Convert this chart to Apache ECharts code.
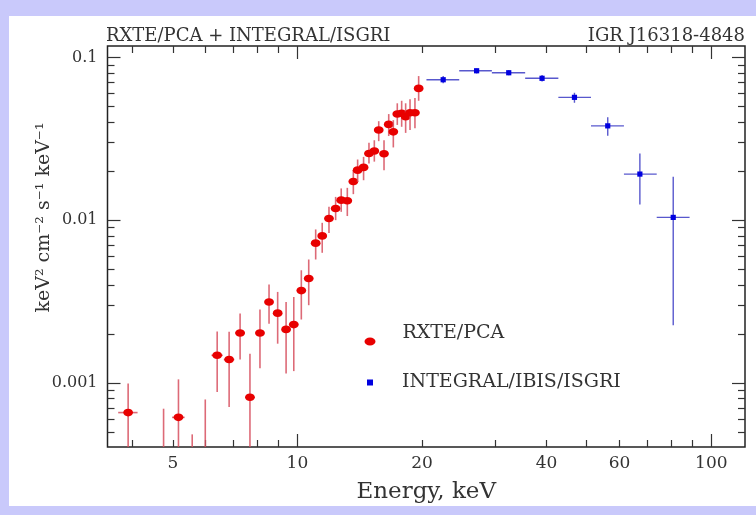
<!DOCTYPE html>
<html><head><meta charset="utf-8">
<script src="https://cdn.jsdelivr.net/npm/echarts@6/dist/echarts.min.js"></script>
<style>html,body{margin:0;padding:0;background:#c9c9fb}#c{width:756px;height:515px}</style>
</head><body><div id="c"></div>
<script>
// RXTE/PCA spectrum (keV, keV^2 cm^-2 s^-1 keV^-1)
const redEnergy    = [3.90, 4.75, 5.16, 5.57, 5.99, 6.40, 6.84, 7.27, 7.68, 8.12, 8.54, 8.96, 9.39, 9.80, 10.22, 10.65, 11.07, 11.48, 11.92, 12.37, 12.76, 13.20, 13.65, 13.98, 14.45, 14.89, 15.34, 15.72, 16.19, 16.62, 17.05, 17.43, 17.86, 18.26, 18.71, 19.23, 19.63];
const redEnergyErr = [0.21, 0.19, 0.18, 0.19, 0.2, 0.2, 0.2, 0.2, 0.2, 0.2, 0.2, 0.2, 0.2, 0.2, 0.2, 0.2, 0.2, 0.2, 0.2, 0.2, 0.2, 0.2, 0.2, 0.2, 0.2, 0.2, 0.2, 0.2, 0.2, 0.2, 0.2, 0.2, 0.2, 0.2, 0.2, 0.2, 0.2];
const redFlux      = [6.56e-4, 3.2e-4, 6.13e-4, 3.0e-4, 3.5e-4, 1.476e-3, 1.39e-3, 2.025e-3, 8.15e-4, 2.025e-3, 3.14e-3, 2.68e-3, 2.13e-3, 2.28e-3, 3.69e-3, 4.38e-3, 7.22e-3, 8.0e-3, 1.024e-2, 1.18e-2, 1.327e-2, 1.315e-2, 1.73e-2, 2.03e-2, 2.11e-2, 2.57e-2, 2.66e-2, 3.58e-2, 2.56e-2, 3.88e-2, 3.49e-2, 4.49e-2, 4.54e-2, 4.33e-2, 4.57e-2, 4.57e-2, 6.46e-2];
const redFluxLow   = [2.5e-4, 1.0e-4, 2.5e-4, 1.0e-4, 1.0e-4, 8.78e-4, 7.1e-4, 1.39e-3, 2.0e-4, 1.23e-3, 2.31e-3, 1.74e-3, 1.14e-3, 1.18e-3, 2.45e-3, 3.0e-3, 5.73e-3, 6.3e-3, 8.35e-3, 1.0e-2, 1.125e-2, 1.06e-2, 1.445e-2, 1.72e-2, 1.76e-2, 2.23e-2, 2.29e-2, 3.06e-2, 2.03e-2, 3.29e-2, 2.8e-2, 3.85e-2, 3.75e-2, 3.44e-2, 3.58e-2, 3.67e-2, 5.42e-2];
const redFluxHigh  = [9.9e-4, 6.93e-4, 1.05e-3, 4.82e-4, 7.9e-4, 2.07e-3, 2.06e-3, 2.67e-3, 1.51e-3, 2.82e-3, 4.02e-3, 3.62e-3, 3.14e-3, 3.37e-3, 4.92e-3, 5.73e-3, 8.77e-3, 9.63e-3, 1.207e-2, 1.39e-2, 1.567e-2, 1.58e-2, 2.03e-2, 2.36e-2, 2.45e-2, 2.99e-2, 3.1e-2, 4.06e-2, 3.1e-2, 4.49e-2, 4.12e-2, 5.23e-2, 5.42e-2, 5.23e-2, 5.53e-2, 5.63e-2, 7.69e-2];

// INTEGRAL/IBIS/ISGRI spectrum
const blueEnergy     = [22.5, 27.1, 32.4, 39.0, 46.7, 56.2, 67.2, 80.9];
const blueEnergyLow  = [20.5, 24.6, 29.5, 35.5, 42.7, 51.2, 61.5, 73.8];
const blueEnergyHigh = [24.6, 29.5, 35.5, 42.7, 51.2, 61.5, 73.8, 88.6];
const blueFlux       = [0.0730, 0.0829, 0.0806, 0.0745, 0.0569, 0.0380, 0.0192, 0.0104];
const blueFluxLow    = [0.0694, 0.0798, 0.0778, 0.0711, 0.0527, 0.0330, 0.0125, 0.00226];
const blueFluxHigh   = [0.0769, 0.0855, 0.0836, 0.0780, 0.0607, 0.0429, 0.0257, 0.0185];

// axes
const xRange = [3.477, 120.6];
const yRange = [4.03e-4, 0.1177];
const xMajorTicks = [10, 100];
const xMinorTicks = [4, 5, 6, 7, 8, 9, 20, 30, 40, 50, 60, 70, 80, 90];
const xTickLabels = [5, 10, 20, 40, 60, 100];
const yMajorTicks = [0.001, 0.01, 0.1];
const yMinorTicks = [0.0005, 0.0006, 0.0007, 0.0008, 0.0009, 0.002, 0.003, 0.004, 0.005, 0.006, 0.007, 0.008, 0.009, 0.02, 0.03, 0.04, 0.05, 0.06, 0.07, 0.08, 0.09];
const yTickLabels = [0.001, 0.01, 0.1];
const yTickText = ['0.001', '0.01', '0.1'];

const SERIF = 'DejaVu Serif';
const INK = '#333';

const redData = redEnergy.map((e, i) => [e, redFlux[i], e - redEnergyErr[i], e + redEnergyErr[i], redFluxLow[i], redFluxHigh[i]]);
const blueData = blueEnergy.map((e, i) => [e, blueFlux[i], blueEnergyLow[i], blueEnergyHigh[i], blueFluxLow[i], blueFluxHigh[i]]);

function makeRender(marker, markColor, barColor, barWidth) {
  return function (params, api) {
    const x = api.value(0), y = api.value(1);
    const c = api.coord([x, y]);
    const xl = api.coord([api.value(2), y]);
    const xh = api.coord([api.value(3), y]);
    const yl = api.coord([x, api.value(4)]);
    const yh = api.coord([x, api.value(5)]);
    const kids = [
      { type: 'line', shape: { x1: xl[0], y1: c[1], x2: xh[0], y2: c[1] }, style: { stroke: barColor, lineWidth: barWidth } },
      { type: 'line', shape: { x1: c[0], y1: yl[1], x2: c[0], y2: yh[1] }, style: { stroke: barColor, lineWidth: barWidth } }
    ];
    if (marker === 'ellipse') {
      kids.push({ type: 'ellipse', shape: { cx: c[0], cy: c[1], rx: 4.9, ry: 3.8 }, style: { fill: markColor } });
    } else {
      kids.push({ type: 'rect', shape: { x: c[0] - 2.6, y: c[1] - 2.6, width: 5.2, height: 5.2 }, style: { fill: markColor } });
    }
    return { type: 'group', children: kids };
  };
}

function xAx(position, ticks, len, labels) {
  return {
    type: 'log', logBase: 10, min: xRange[0], max: xRange[1], position: position,
    axisLine: { show: false }, splitLine: { show: false },
    axisTick: { show: true, inside: true, length: len, customValues: ticks, lineStyle: { color: INK, width: 1.2 } },
    axisLabel: labels ? { show: true, customValues: xTickLabels, formatter: v => String(Math.round(v)), margin: 8, fontFamily: SERIF, fontSize: 17, color: INK } : { show: false },
    name: labels ? 'Energy, keV' : '', nameLocation: 'middle', nameGap: 34, nameMoveOverlap: false,
    nameTextStyle: { fontFamily: SERIF, fontSize: 23, color: INK }
  };
}
function yAx(position, ticks, len, labels) {
  return {
    type: 'log', logBase: 10, min: yRange[0], max: yRange[1], position: position,
    axisLine: { show: false }, splitLine: { show: false },
    axisTick: { show: true, inside: true, length: len, customValues: ticks, lineStyle: { color: INK, width: 1.2 } },
    axisLabel: labels ? { show: true, customValues: yTickLabels, formatter: v => { const i = yTickLabels.findIndex(t => Math.abs(Math.log10(t) - Math.log10(v)) < 1e-6); return i >= 0 ? yTickText[i] : ''; }, margin: 10, fontFamily: SERIF, fontSize: 16, color: INK } : { show: false },
    name: labels ? 'keV² cm⁻² s⁻¹ keV⁻¹' : '', nameLocation: 'middle', nameGap: 54, nameMoveOverlap: false,
    nameTextStyle: { fontFamily: SERIF, fontSize: 19, color: INK, padding: [0, 0, 0, 58] }
  };
}

const chart = echarts.init(document.getElementById('c'), null, { renderer: 'canvas' });
chart.setOption({
  backgroundColor: '#c9c9fb',
  animation: false,
  graphic: [{ type: 'rect', z: -10, silent: true, shape: { x: 9, y: 16, width: 747, height: 490 }, style: { fill: '#ffffff' } }],
  title: [
    { text: 'RXTE/PCA + INTEGRAL/ISGRI', left: 106, top: 27, padding: 0, textStyle: { fontFamily: SERIF, fontSize: 18, fontWeight: 'normal', color: INK } },
    { text: 'IGR J16318-4848', right: 11, top: 27, padding: 0, textStyle: { fontFamily: SERIF, fontSize: 18, fontWeight: 'normal', color: INK } }
  ],
  legend: [
    { data: [{ name: 'RXTE/PCA', icon: 'path://M5.5,-16L5.5,-15.9M0,4a5.5,4 0 1,0 11,0a5.5,4 0 1,0 -11,0z' }], left: 364.5, top: 321.5, padding: 0, itemWidth: 11, itemHeight: 24,
      textStyle: { fontFamily: SERIF, fontSize: 19, color: INK, padding: [0, 0, 0, 22] } },
    { data: [{ name: 'INTEGRAL/IBIS/ISGRI', icon: 'rect' }], left: 367, top: 373, padding: 0, itemWidth: 6, itemHeight: 6,
      textStyle: { fontFamily: SERIF, fontSize: 19, color: INK, padding: [0, 0, 0, 24] } }
  ],
  grid: { left: 107.5, top: 46, right: 11, bottom: 68, show: true, borderColor: '#222', borderWidth: 1.5, backgroundColor: 'transparent', containLabel: false },
  xAxis: [xAx('bottom', xMajorTicks, 13, true), xAx('bottom', xMinorTicks, 7, false), xAx('top', xMajorTicks, 13, false), xAx('top', xMinorTicks, 7, false)],
  yAxis: [yAx('left', yMajorTicks, 13, true), yAx('left', yMinorTicks, 7, false), yAx('right', yMajorTicks, 13, false), yAx('right', yMinorTicks, 7, false)],
  series: [
    { name: 'RXTE/PCA', type: 'custom', xAxisIndex: 0, yAxisIndex: 0, clip: true, itemStyle: { color: '#e80000' },
      renderItem: makeRender('ellipse', '#e80000', 'rgba(215,80,95,0.85)', 1.6), encode: { x: 0, y: 1 }, data: redData, z: 3 },
    { name: 'INTEGRAL/IBIS/ISGRI', type: 'custom', xAxisIndex: 0, yAxisIndex: 0, clip: true, itemStyle: { color: '#0000e0' },
      renderItem: makeRender('rect', '#0000e0', 'rgba(70,70,200,0.9)', 1.4), encode: { x: 0, y: 1 }, data: blueData, z: 3 }
  ]
});
</script></body></html>
